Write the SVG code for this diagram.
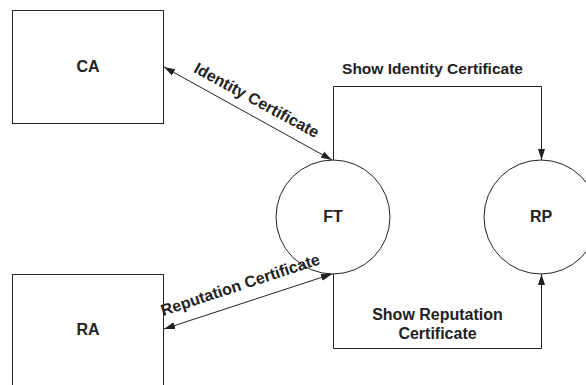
<svg xmlns="http://www.w3.org/2000/svg" width="586" height="385" viewBox="0 0 586 385">
  <style>
    .box { fill: #ffffff; stroke: #222222; stroke-width: 1; }
    .node { fill: #ffffff; stroke: #222222; stroke-width: 1; }
    .edge { fill: none; stroke: #222222; stroke-width: 1; }
    .lbl { font-family: "Liberation Sans", Arial, sans-serif; font-weight: bold; font-size: 16px; fill: #222222; text-anchor: middle; }
  </style>
  <defs>
    <marker id="arrow" markerUnits="userSpaceOnUse" markerWidth="12" markerHeight="8" refX="11" refY="4" orient="auto-start-reverse">
      <path d="M0,0.5 L11,4 L0,7.5 z" fill="#222222"/>
    </marker>
  </defs>
  <rect width="586" height="385" fill="#ffffff"/>

  <g id="CA">
    <rect class="box" x="12.5" y="10.5" width="151" height="113"/>
    <text class="lbl" x="88" y="72">CA</text>
  </g>

  <g id="RA">
    <rect class="box" x="12.5" y="274.5" width="151" height="130"/>
    <text class="lbl" x="88" y="335">RA</text>
  </g>

  <g id="FT">
    <circle class="node" cx="333" cy="217" r="57"/>
    <text class="lbl" x="333" y="222">FT</text>
  </g>

  <g id="RP">
    <circle class="node" cx="541" cy="217" r="57"/>
    <text class="lbl" x="541" y="222">RP</text>
  </g>

  <g id="connectors">
    <line class="edge" x1="164" y1="67" x2="332" y2="160" marker-start="url(#arrow)" marker-end="url(#arrow)"/>
    <text class="lbl" transform="translate(254,105) rotate(28.5)">Identity Certificate</text>

    <line class="edge" x1="164" y1="329" x2="332" y2="274" marker-start="url(#arrow)" marker-end="url(#arrow)"/>
    <text class="lbl" transform="translate(242,290) rotate(-18.3)">Reputation Certificate</text>

    <polyline class="edge" points="333.5,160 333.5,86.5 541.5,86.5 541.5,160" marker-end="url(#arrow)"/>
    <text class="lbl" x="432.5" y="73.5" style="font-size:15.5px">Show Identity Certificate</text>

    <polyline class="edge" points="333.5,274 333.5,348.5 541.5,348.5 541.5,274" marker-end="url(#arrow)"/>
    <text class="lbl" x="437.5" y="320">Show Reputation</text>
    <text class="lbl" x="437.5" y="338.5">Certificate</text>
  </g>
</svg>
